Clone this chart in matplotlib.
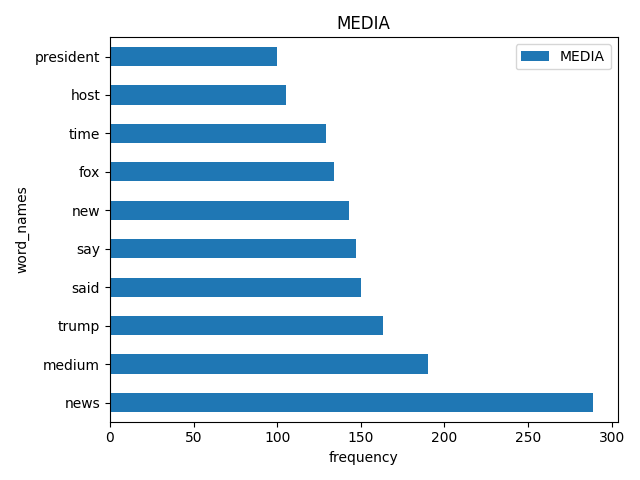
import matplotlib
matplotlib.use('Agg')
import matplotlib.pyplot as plt

word_names = ['news', 'medium', 'trump', 'said', 'say', 'new', 'fox', 'time', 'host', 'president']
frequency = [289, 190, 163, 150, 147, 143, 134, 129, 105, 100]

fig, ax = plt.subplots(figsize=(6.4, 4.8), dpi=100)
pos = list(range(len(word_names)))
ax.barh(pos, frequency, height=0.5, color='#1f77b4', label='MEDIA')
ax.set_yticks(pos)
ax.set_yticklabels(word_names)
ax.set_ylim(-0.5, len(word_names) - 0.5)
ax.set_title('MEDIA')
ax.set_xlabel('frequency')
ax.set_ylabel('word_names')
ax.legend(loc='upper right')
plt.tight_layout()
plt.savefig('out.png')
